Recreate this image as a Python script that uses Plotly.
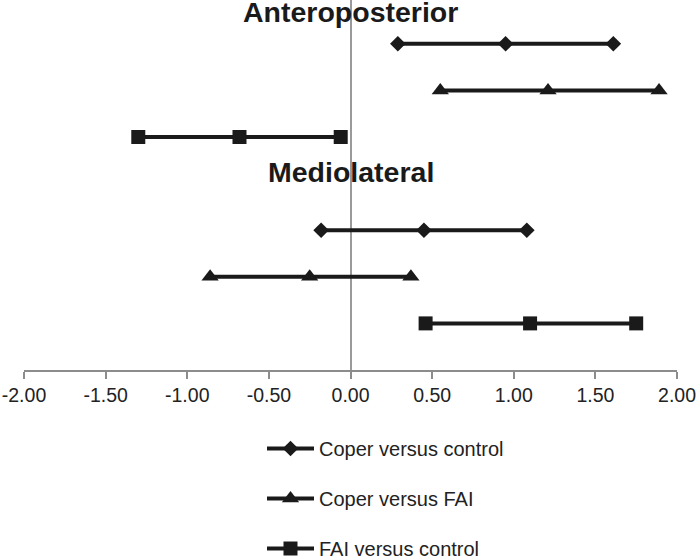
import plotly.graph_objects as go

# ---- data (effect sizes: lower CI, mean, upper CI) ----
groups = ["Anteroposterior", "Mediolateral"]
series_names = ["Coper versus control", "Coper versus FAI", "FAI versus control"]

coper_control_ap = [0.29, 0.95, 1.61]
coper_control_ml = [-0.18, 0.45, 1.08]
coper_fai_ap = [0.55, 1.21, 1.89]
coper_fai_ml = [-0.86, -0.25, 0.37]
fai_control_ap = [-1.30, -0.68, -0.06]
fai_control_ml = [0.46, 1.10, 1.75]

x_ticks = [-2.0, -1.5, -1.0, -0.5, 0.0, 0.5, 1.0, 1.5, 2.0]
x_tick_labels = ["-2.00", "-1.50", "-1.00", "-0.50", "0.00", "0.50", "1.00", "1.50", "2.00"]

# row positions on the vertical axis (layout)
row_ap = [7, 6, 5]
row_ml = [3, 2, 1]
title_rows = [7.68, 4.25]

symbols = ["diamond", "triangle-up", "square"]
sizes = [12, 15, 14]
ap_vals = [coper_control_ap, coper_fai_ap, fai_control_ap]
ml_vals = [coper_control_ml, coper_fai_ml, fai_control_ml]

INK = "#1a1a1a"
FONT = "Liberation Sans, Arial, sans-serif"

fig = go.Figure()
for i, name in enumerate(series_names):
    xs = list(ap_vals[i]) + [None] + list(ml_vals[i])
    ys = [row_ap[i]] * 3 + [None] + [row_ml[i]] * 3
    fig.add_trace(go.Scatter(
        x=xs, y=ys, name=name, mode="lines+markers",
        line=dict(color=INK, width=4),
        marker=dict(symbol=symbols[i], size=sizes[i], color=INK),
        legendgroup=name, connectgaps=False, hoverinfo="x",
    ))

for g, yv in zip(groups, title_rows):
    fig.add_annotation(x=0, y=yv, xref="x", yref="y", text="<b>%s</b>" % g,
                       showarrow=False, font=dict(size=28.5, color=INK, family=FONT),
                       xanchor="center", yanchor="middle")

W, H = 697, 558
L, R, T, B = 24, 20, 0, 188
plot_w, plot_h = W - L - R, H - T - B

fig.update_layout(
    width=W, height=H,
    margin=dict(l=L, r=R, t=T, b=B, autoexpand=False),
    paper_bgcolor="white", plot_bgcolor="white",
    font=dict(family=FONT, color="#222"),
    xaxis=dict(range=[-2, 2], tickvals=x_ticks, ticktext=x_tick_labels,
               ticklabeloverflow="allow",
               showgrid=False, zeroline=True, zerolinecolor="#9a9a9a", zerolinewidth=1.5,
               showline=True, linecolor="#8c8c8c", linewidth=1.5,
               ticks="outside", ticklen=7, tickcolor="#8c8c8c", tickwidth=1.5,
               tickfont=dict(size=19.5, color="#222"), fixedrange=True),
    yaxis=dict(range=[0, 7.94], visible=False, showgrid=False, zeroline=False,
               fixedrange=True),
    showlegend=True,
    legend=dict(orientation="v", x=(262 - L) / plot_w, xanchor="left",
                y=-(429 - plot_h) / plot_h, yanchor="top",
                font=dict(size=20, color="#222", family=FONT),
                itemwidth=47, tracegroupgap=21, bgcolor="rgba(0,0,0,0)"),
)

fig.write_html("out.html", config={"displayModeBar": False},
               post_script="document.body.style.margin='0';document.body.style.overflow='hidden';")
